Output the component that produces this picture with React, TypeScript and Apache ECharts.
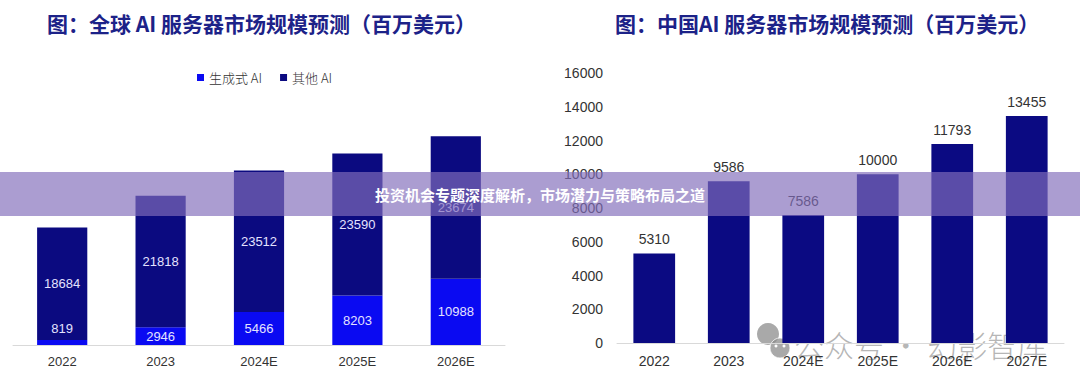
import React, { useEffect, useRef } from "react";
import * as echarts from "echarts";

const globalCategories = ["2022", "2023", "2024E", "2025E", "2026E"];
const genAI = [819, 2946, 5466, 8203, 10988];
const otherAI = [18684, 21818, 23512, 23590, 23674];

const chinaCategories = ["2022", "2023", "2024E", "2025E", "2026E", "2027E"];
const chinaValues = [5310, 9586, 7586, 10000, 11793, 13455];

const leftTitle = "图：全球 AI 服务器市场规模预测（百万美元）";
const rightTitle = "图：中国AI 服务器市场规模预测（百万美元）";
const bannerText = "投资机会专题深度解析，市场潜力与策略布局之道";
const watermarkText = "公众号 · 幻影智库";

const FONT = "'Liberation Sans', Arial, sans-serif";
const CJK = "'Noto Sans CJK SC', sans-serif";

export default function App() {
  const ref = useRef<HTMLDivElement>(null);

  useEffect(() => {
    document.body.style.margin = "0";
    const chart = echarts.init(ref.current!, null, { renderer: "svg" });

    const option: any = {
      animation: false,
      backgroundColor: "#ffffff",
      title: [
        {
          text: leftTitle,
          left: 42,
          top: 7,
          textStyle: { fontFamily: CJK, fontSize: 21, fontWeight: "bold", color: "#1c2288" },
        },
        {
          text: rightTitle,
          left: 610,
          top: 7,
          textStyle: { fontFamily: CJK, fontSize: 21, fontWeight: "bold", color: "#1c2288" },
        },
      ],
      legend: {
        left: 192,
        top: 66,
        itemWidth: 7,
        itemHeight: 7,
        itemGap: 18,
        icon: "rect",
        textStyle: { fontFamily: CJK, fontSize: 13, color: "#333", fontWeight: 300 },
        data: ["生成式 AI", "其他 AI"],
      },
      grid: [
        { left: 13, right: 575, top: 104, bottom: 43 },
        { left: 617, right: 16, top: 73, bottom: 45 },
      ],
      xAxis: [
        {
          type: "category",
          gridIndex: 0,
          data: globalCategories,
          axisLine: { lineStyle: { color: "#d9d9d9", width: 1 } },
          axisTick: { show: false },
          axisLabel: { fontFamily: FONT, fontSize: 13, color: "#333", margin: 10 },
        },
        {
          type: "category",
          gridIndex: 1,
          data: chinaCategories,
          axisLine: { lineStyle: { color: "#d9d9d9", width: 1 } },
          axisTick: { show: false },
          axisLabel: { fontFamily: FONT, fontSize: 14, color: "#333", margin: 11 },
        },
      ],
      yAxis: [
        { type: "value", gridIndex: 0, min: 0, max: 40000, show: false },
        {
          type: "value",
          gridIndex: 1,
          min: 0,
          max: 16000,
          interval: 2000,
          axisLine: { show: false },
          axisTick: { show: false },
          splitLine: { show: false },
          axisLabel: {
            fontFamily: FONT,
            fontSize: 14,
            color: "#333",
            margin: 14,
            formatter: (v: number) => String(v),
          },
        },
      ],
      series: [
        {
          name: "生成式 AI",
          type: "bar",
          stack: "g",
          xAxisIndex: 0,
          yAxisIndex: 0,
          barWidth: "51%",
          itemStyle: { color: "#0a0af2" },
          data: genAI.map((v, i) =>
            i === 0
              ? { value: v, label: { position: "insideBottom", distance: 10 } }
              : { value: v }
          ),
          label: {
            show: true,
            position: "inside",
            fontFamily: FONT,
            fontSize: 13,
            color: "#e4e2ff",
          },
        },
        {
          name: "其他 AI",
          type: "bar",
          stack: "g",
          xAxisIndex: 0,
          yAxisIndex: 0,
          barWidth: "51%",
          itemStyle: { color: "#0b0a80" },
          data: otherAI,
          label: {
            show: true,
            position: "inside",
            fontFamily: FONT,
            fontSize: 13,
            color: "#e4e2ff",
          },
        },
        {
          name: "中国",
          type: "bar",
          xAxisIndex: 1,
          yAxisIndex: 1,
          barWidth: "56%",
          itemStyle: { color: "#0b0a82" },
          data: chinaValues,
          label: {
            show: true,
            position: "top",
            distance: 7,
            fontFamily: FONT,
            fontSize: 14,
            color: "#333",
          },
        },
      ],
      graphic: [
        {
          type: "group",
          z: 100,
          children: [
            { type: "circle", shape: { cx: 768, cy: 334, r: 11 }, style: { fill: "#8c8c8c", opacity: 0.75 } },
            { type: "circle", shape: { cx: 780, cy: 348, r: 10 }, style: { fill: "#8c8c8c", opacity: 0.75, stroke: "#ffffff", lineWidth: 1 } },
            { type: "circle", shape: { cx: 776, cy: 346, r: 1.5 }, style: { fill: "#ffffff" } },
            { type: "circle", shape: { cx: 784, cy: 346, r: 1.5 }, style: { fill: "#ffffff" } },
            {
              type: "text",
              x: 794,
              y: 344,
              style: {
                text: watermarkText,
                fontFamily: CJK,
                fontSize: 30,
                fontWeight: 300,
                fill: "rgba(150,150,150,0.7)",
                verticalAlign: "middle",
                align: "left",
              },
            },
          ],
        },
        {
          type: "rect",
          z: 200,
          shape: { x: 0, y: 172, width: 1080, height: 44 },
          style: { fill: "rgba(130,109,186,0.67)" },
        },
        {
          type: "text",
          z: 201,
          x: 540,
          y: 194,
          style: {
            text: bannerText,
            fontFamily: CJK,
            fontSize: 15,
            fontWeight: "bold",
            fill: "#ffffff",
            align: "center",
            verticalAlign: "middle",
          },
        },
      ],
    };

    chart.setOption(option);
    return () => chart.dispose();
  }, []);

  return <div ref={ref} style={{ width: 1080, height: 388 }} />;
}
